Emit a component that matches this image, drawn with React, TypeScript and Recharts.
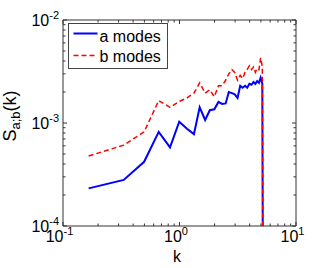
import React from 'react';
import { LineChart, Line, XAxis, YAxis } from 'recharts';

const kValues = [0.166, 0.332, 0.497, 0.663, 0.829, 0.995, 1.16, 1.33, 1.49, 1.66, 1.82, 1.99, 2.16, 2.32, 2.49, 2.65, 2.82, 2.98, 3.15, 3.32, 3.48, 3.65, 3.81, 3.98, 4.15, 4.31, 4.48, 4.64, 4.81, 4.97, 5.14, 5.3];
const aModes = [2.32e-4, 2.8e-4, 4.2e-4, 8.2e-4, 5.8e-4, 1.03e-3, 8.8e-4, 7.8e-4, 1.42e-3, 1.07e-3, 1.33e-3, 1.36e-3, 1.6e-3, 1.53e-3, 1.55e-3, 2.0e-3, 1.95e-3, 1.9e-3, 1.75e-3, 2.3e-3, 2.2e-3, 2.3e-3, 2.2e-3, 2.4e-3, 2.35e-3, 2.5e-3, 2.4e-3, 2.55e-3, 2.45e-3, 2.75e-3, 2.4e-3, 1e-8];
const bModes = [4.78e-4, 6.1e-4, 8.2e-4, 1.65e-3, 1.42e-3, 1.62e-3, 1.75e-3, 1.95e-3, 2.45e-3, 1.95e-3, 2.1e-3, 1.8e-3, 2.3e-3, 2.3e-3, 2.6e-3, 3.0e-3, 3.3e-3, 3.1e-3, 2.6e-3, 2.9e-3, 2.7e-3, 3.1e-3, 3.3e-3, 3.6e-3, 3.3e-3, 3.5e-3, 3.1e-3, 3.4e-3, 3.3e-3, 4.3e-3, 3.5e-3, 1e-8];

const xTicks = [0.1, 0.2, 0.3, 0.4, 0.5, 0.6, 0.7, 0.8, 0.9, 1, 2, 3, 4, 5, 6, 7, 8, 9, 10];
const yTicks = [0.0001, 0.0002, 0.0003, 0.0004, 0.0005, 0.0006, 0.0007, 0.0008, 0.0009, 0.001, 0.002, 0.003, 0.004, 0.005, 0.006, 0.007, 0.008, 0.009, 0.01];
const xMajorTicks = [0.1, 1, 10];
const xMajorLabels = ['-1', '0', '1'];
const yMajorTicks = [0.0001, 0.001, 0.01];
const yMajorLabels = ['-4', '-3', '-2'];
const seriesNames = ['a modes', 'b modes'];

const data = kValues.map((k, i) => ({ k, a: aModes[i], b: bModes[i] }));

const FONT = '"Liberation Sans", Arial, Helvetica, sans-serif';
const AX = '#333';
const MAJ = 4;
const MIN = 2.5;

const majorIndex = (v: number, majors: number[]) =>
  majors.findIndex((m) => Math.abs(Math.log10(v) - Math.log10(m)) < 1e-6);

const BottomTick = (props: any) => {
  const { x, y, payload } = props;
  const idx = majorIndex(payload.value, xMajorTicks);
  const major = idx >= 0;
  return (
    <g>
      <line x1={x} x2={x} y1={y} y2={y - (major ? MAJ : MIN)} stroke={AX} strokeWidth={1} />
      {major && (
        <text x={x - 3.5} y={y + 16} textAnchor="middle" fontSize={16} fill="#000" fontFamily={FONT}>
          <tspan>10</tspan>
          <tspan dy={-7} fontSize={11}>{xMajorLabels[idx]}</tspan>
        </text>
      )}
    </g>
  );
};

const TopTick = (props: any) => {
  const { x, y, payload } = props;
  const major = majorIndex(payload.value, xMajorTicks) >= 0;
  return <line x1={x} x2={x} y1={y} y2={y + (major ? MAJ : MIN)} stroke={AX} strokeWidth={1} />;
};

const LeftTick = (props: any) => {
  const { x, y, payload } = props;
  const idx = majorIndex(payload.value, yMajorTicks);
  const major = idx >= 0;
  return (
    <g>
      <line x1={x} x2={x + (major ? MAJ : MIN)} y1={y} y2={y} stroke={AX} strokeWidth={1} />
      {major && (
        <text x={x - 4} y={y + 6} textAnchor="end" fontSize={16} fill="#000" fontFamily={FONT}>
          <tspan>10</tspan>
          <tspan dy={-7} fontSize={11}>{yMajorLabels[idx]}</tspan>
        </text>
      )}
    </g>
  );
};

const RightTick = (props: any) => {
  const { x, y, payload } = props;
  const major = majorIndex(payload.value, yMajorTicks) >= 0;
  return <line x1={x} x2={x - (major ? MAJ : MIN)} y1={y} y2={y} stroke={AX} strokeWidth={1} />;
};

const YLabel = () => (
  <text
    transform="translate(16,116) rotate(-90)"
    textAnchor="middle"
    fontSize={18}
    fill="#000"
    fontFamily={FONT}
  >
    <tspan>S</tspan>
    <tspan dy={4} fontSize={13}>a;b</tspan>
    <tspan dy={-4} fontSize={18}>(k)</tspan>
  </text>
);

const LegendBox = () => (
  <g transform="translate(68.5,23.5)" fontFamily={FONT}>
    <rect x={0} y={0} width={99} height={45} fill="#fff" stroke="#444" strokeWidth={1} />
    <line x1={5} x2={29} y1={10} y2={10} stroke="#0000ff" strokeWidth={2} />
    <text x={31} y={18} fontSize={16} fill="#000">{seriesNames[0]}</text>
    <line x1={5} x2={29} y1={32} y2={32} stroke="#ff0000" strokeWidth={1.5} strokeDasharray="5 3" />
    <text x={31} y={38} fontSize={16} fill="#000">{seriesNames[1]}</text>
  </g>
);

const XLabelAndLegend = () => (
  <g>
    <text x={177} y={262} textAnchor="middle" fontSize={16} fill="#000" fontFamily={FONT}>
      k
    </text>
    <LegendBox />
  </g>
);

export default function App() {
  return (
    <div style={{ position: 'absolute', left: 0, top: 0, background: '#fff' }}>
      <LineChart width={327} height={268} data={data} margin={{ top: 19, right: 30, left: 0, bottom: 0 }}>
        <XAxis
          xAxisId="bottom"
          dataKey="k"
          type="number"
          scale="log"
          domain={[0.1, 10]}
          allowDataOverflow
          ticks={xTicks}
          interval={0}
          tickSize={0}
          tickMargin={0}
          tickLine={false}
          tick={<BottomTick />}
          height={42}
          stroke={AX}
          label={{ content: () => <XLabelAndLegend /> }}
        />
        <XAxis
          xAxisId="top"
          orientation="top"
          dataKey="k"
          type="number"
          scale="log"
          domain={[0.1, 10]}
          allowDataOverflow
          ticks={xTicks}
          interval={0}
          tickSize={0}
          tickMargin={0}
          tickLine={false}
          tick={<TopTick />}
          height={1}
          stroke={AX}
        />
        <YAxis
          yAxisId="left"
          type="number"
          scale="log"
          domain={[0.0001, 0.01]}
          allowDataOverflow
          ticks={yTicks}
          interval={0}
          tickSize={0}
          tickMargin={0}
          tickLine={false}
          tick={<LeftTick />}
          width={63}
          stroke={AX}
          label={{ content: () => <YLabel /> }}
        />
        <YAxis
          yAxisId="right"
          orientation="right"
          type="number"
          scale="log"
          domain={[0.0001, 0.01]}
          allowDataOverflow
          ticks={yTicks}
          interval={0}
          tickSize={0}
          tickMargin={0}
          tickLine={false}
          tick={<RightTick />}
          width={1}
          stroke={AX}
        />
        <Line xAxisId="bottom" yAxisId="left" dataKey="a" stroke="#0000ff" strokeWidth={2} dot={false} isAnimationActive={false} />
        <Line xAxisId="bottom" yAxisId="left" dataKey="b" stroke="#ff0000" strokeWidth={1.5} strokeDasharray="5 3" dot={false} isAnimationActive={false} />
      </LineChart>
    </div>
  );
}
